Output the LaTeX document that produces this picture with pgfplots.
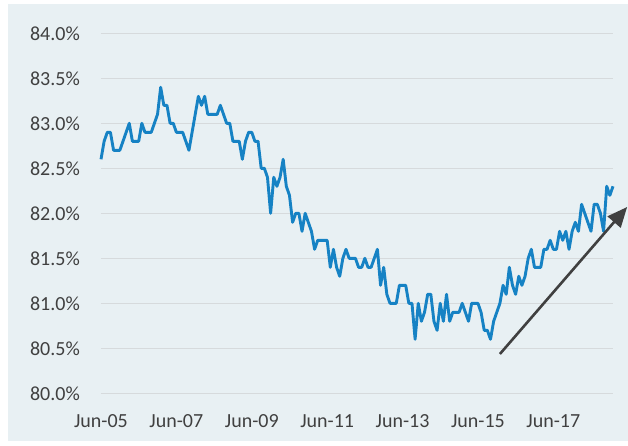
\documentclass[border=0pt]{standalone}
\usepackage{pgfplots}
\pgfplotsset{compat=1.18}
\usepackage{fontspec}
\setmainfont{Carlito}
\usetikzlibrary{arrows.meta}
\definecolor{bgc}{RGB}{232,240,243}
\definecolor{linec}{RGB}{22,130,196}
\definecolor{gridc}{RGB}{214,218,220}
\definecolor{txtc}{RGB}{64,64,64}
\definecolor{arrc}{RGB}{64,64,64}
\begin{document}
\begin{tikzpicture}
\useasboundingbox (-101bp,-52.7bp) rectangle (527bp,393.3bp);
\fill[bgc] (-93bp,-47.7bp) rectangle (527bp,389.3bp);
\begin{axis}[
  scale only axis, width=512bp, height=360bp,
  xmin=0, xmax=163, ymin=80, ymax=84,
  axis line style={draw=none}, major tick length=0pt,
  ytick={80,80.5,...,84.01},
  xtick={0,24,48,72,96,120,144},
  xticklabels={Jun-05,Jun-07,Jun-09,Jun-11,Jun-13,Jun-15,Jun-17},
  yticklabel={\pgfmathprintnumber[fixed,fixed zerofill,precision=1]{\tick}\%},
  ymajorgrids, grid style={color=gridc, line width=1.4bp},
  every tick label/.append style={font=\fontsize{20bp}{24bp}\selectfont, text=txtc, inner sep=0pt},
  yticklabel style={anchor=east, xshift=-21bp},
  xticklabel style={anchor=center, yshift=-27.7bp},
  /pgf/number format/assume math mode=true,
  clip=false,
]
\addplot[linec, line width=2.9bp, line join=round, mark=none] table {
x y
0 82.6
1 82.8
2 82.9
3 82.9
4 82.7
5 82.7
6 82.7
7 82.8
8 82.9
9 83.0
10 82.8
11 82.8
12 82.8
13 83.0
14 82.9
15 82.9
16 82.9
17 83.0
18 83.1
19 83.4
20 83.2
21 83.2
22 83.0
23 83.0
24 82.9
25 82.9
26 82.9
27 82.8
28 82.7
29 82.9
30 83.1
31 83.3
32 83.2
33 83.3
34 83.1
35 83.1
36 83.1
37 83.1
38 83.2
39 83.1
40 83.0
41 83.0
42 82.8
43 82.8
44 82.8
45 82.6
46 82.8
47 82.9
48 82.9
49 82.8
50 82.8
51 82.5
52 82.5
53 82.4
54 82.0
55 82.4
56 82.3
57 82.4
58 82.6
59 82.3
60 82.2
61 81.9
62 82.0
63 82.0
64 81.8
65 82.0
66 81.9
67 81.8
68 81.6
69 81.7
70 81.7
71 81.7
72 81.7
73 81.4
74 81.6
75 81.4
76 81.3
77 81.5
78 81.6
79 81.5
80 81.5
81 81.5
82 81.4
83 81.4
84 81.5
85 81.4
86 81.4
87 81.5
88 81.6
89 81.2
90 81.4
91 81.1
92 81.0
93 81.0
94 81.0
95 81.2
96 81.2
97 81.2
98 81.0
99 81.0
100 80.6
101 81.0
102 80.8
103 80.9
104 81.1
105 81.1
106 80.8
107 80.7
108 81.0
109 80.8
110 81.1
111 80.8
112 80.9
113 80.9
114 80.9
115 81.0
116 80.9
117 80.8
118 81.0
119 81.0
120 81.0
121 80.9
122 80.7
123 80.7
124 80.6
125 80.8
126 80.9
127 81.0
128 81.2
129 81.1
130 81.4
131 81.2
132 81.1
133 81.3
134 81.2
135 81.3
136 81.5
137 81.6
138 81.4
139 81.4
140 81.4
141 81.6
142 81.6
143 81.7
144 81.6
145 81.6
146 81.8
147 81.7
148 81.8
149 81.6
150 81.8
151 81.9
152 81.8
153 82.1
154 82.0
155 81.9
156 81.8
157 82.1
158 82.1
159 82.0
160 81.8
161 82.3
162 82.2
163 82.3
};
\draw[arrc, line width=2.6bp, -{Triangle[length=20bp,width=17bp]}] (axis cs:127,80.437) -- (axis cs:167.5,82.07);
\end{axis}
\end{tikzpicture}
\end{document}
